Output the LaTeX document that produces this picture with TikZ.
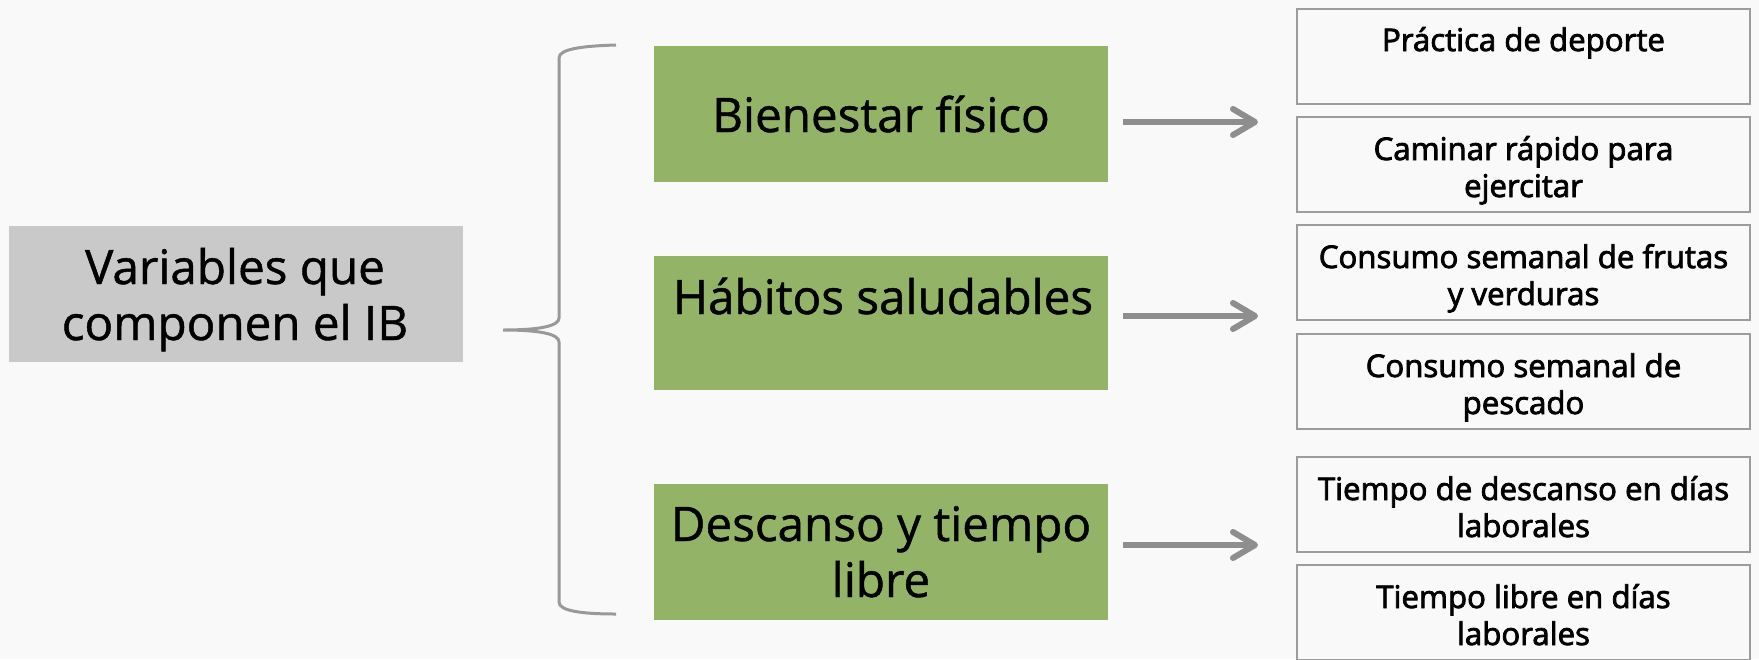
\documentclass[tikz,border=0pt]{standalone}
\usepackage{fontspec}
\setmainfont{Open Sans}
\newfontfamily\bigfont[FakeBold=1]{Open Sans}
\newfontfamily\smallfont[FakeBold=2.5]{Open Sans}
\usetikzlibrary{arrows.meta}
\definecolor{bgc}{HTML}{F9F9F9}
\definecolor{grayfill}{HTML}{C9C9C9}
\definecolor{greenfill}{HTML}{93B366}
\definecolor{bordc}{HTML}{9C9C9C}
\definecolor{arrc}{HTML}{8E8E8E}
\definecolor{bracec}{HTML}{999999}
\tikzset{
  box/.style={inner sep=0pt, outer sep=0pt},
  graybox/.style={box, fill=grayfill, minimum width=454pt},
  greenbox/.style={box, fill=greenfill, minimum width=454pt},
  itembox/.style={box, draw=bordc, line width=2pt, minimum width=453pt, minimum height=95pt},
  bigtext/.style={anchor=base, align=center, inner sep=0pt, font=\bigfont\fontsize{47.6}{56}\selectfont},
  smalltext/.style={anchor=base, align=center, inner sep=0pt, font=\smallfont\fontsize{31.2}{37}\selectfont},
  arr/.style={draw=arrc, line width=6pt, -{Straight Barb[length=22pt, width=26pt, round]}},
  bracestyle/.style={draw=bracec, line width=3pt}
}
\begin{document}
\begin{tikzpicture}[x=1pt, y=-1pt]
\useasboundingbox (0,0) rectangle (1759,659);
\fill[bgc] (0,0) rectangle (1759,659);
\begin{scope}
\clip (0,0) rectangle (1759,659);
% left box
\node[graybox, minimum height=136pt] (var) at (236,294) {};
\node[bigtext] (vart) at (235,340) {Variables que\\componen el IB};
% brace
\coordinate (btip) at (503,330);
\coordinate (btop) at (616,45);
\coordinate (bbot) at (616,614);
\draw[bracestyle] (btop) .. controls (582,46) and (559,49) .. (559,58) -- (559,318)
  .. controls (559,326) and (540,330) .. (btip)
  .. controls (540,330) and (559,334) .. (559,342) -- (559,602)
  .. controls (559,611) and (582,614) .. (bbot);
% green boxes
\node[greenbox, minimum height=136pt] (g1) at (881,114) {};
\node[greenbox, minimum height=134pt] (g2) at (881,323) {};
\node[greenbox, minimum height=136pt] (g3) at (881,552) {};
\node[bigtext] (g1t) at (881,132) {Bienestar físico};
\node[bigtext] (g2t) at (883,314) {Hábitos saludables};
\node[bigtext] (g3t) at (881,597) {Descanso y tiempo\\libre};
% arrows
\coordinate (a1s) at (1123,122); \coordinate (a1e) at (1258,122);
\coordinate (a2s) at (1123,316); \coordinate (a2e) at (1258,316);
\coordinate (a3s) at (1123,545); \coordinate (a3e) at (1258,545);
\draw[arr] (a1s) -- (a1e);
\draw[arr] (a2s) -- (a2e);
\draw[arr] (a3s) -- (a3e);
% right boxes
\node[itembox] (r1) at (1523.5,56.5) {};
\node[itembox] (r2) at (1523.5,164.5) {};
\node[itembox] (r3) at (1523.5,272.5) {};
\node[itembox] (r4) at (1523.5,381) {};
\node[itembox] (r5) at (1523.5,504.5) {};
\node[itembox] (r6) at (1523.5,612.5) {};
\node[smalltext] (r1t) at (1523.5,51) {Práctica de deporte};
\node[smalltext] (r2t) at (1523.5,197) {Caminar rápido para\\ejercitar};
\node[smalltext] (r3t) at (1523.5,305) {Consumo semanal de frutas\\y verduras};
\node[smalltext] (r4t) at (1523.5,414) {Consumo semanal de\\pescado};
\node[smalltext] (r5t) at (1523.5,537) {Tiempo de descanso en días\\laborales};
\node[smalltext] (r6t) at (1523.5,645) {Tiempo libre en días\\laborales};
\end{scope}
\end{tikzpicture}
\end{document}
